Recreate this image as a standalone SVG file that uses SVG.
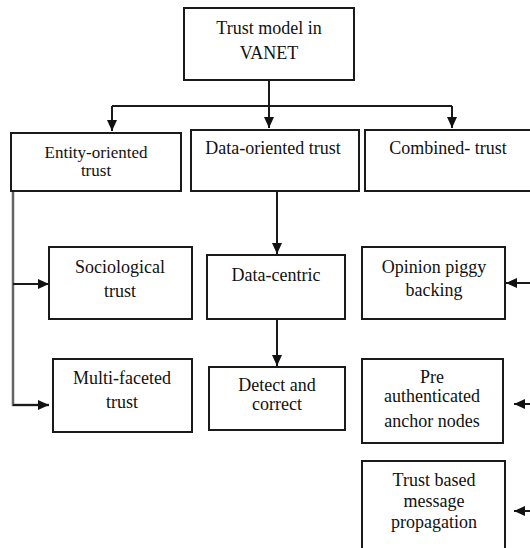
<svg xmlns="http://www.w3.org/2000/svg" width="530" height="548" viewBox="0 0 530 548">
<style>
.box{fill:#fff;stroke:#1a1a1a;stroke-width:2}
.t{font-size:18px;fill:#111;text-anchor:middle}
.c{fill:none;stroke:#1a1a1a;stroke-width:2}
.g{fill:none;stroke:#666;stroke-width:2.5}
</style>
<defs>
<marker id="ah" markerUnits="userSpaceOnUse" markerWidth="12" markerHeight="12" viewBox="0 0 12 12" refX="11" refY="6" orient="auto">
<path d="M0,1 L11,6 L0,11 Z" fill="#111"/>
</marker>
</defs>
<rect width="530" height="548" fill="#fff"/>
<g id="connectors">
<path class="c" d="M269,80 V128" marker-end="url(#ah)"/>
<path class="c" d="M112,106 H452"/>
<path class="c" d="M112,106 V131" marker-end="url(#ah)"/>
<path class="c" d="M452,106 V128" marker-end="url(#ah)"/>
<path class="g" d="M13,162 V405 H49"/>
<path class="c" d="M13,405 H49" marker-end="url(#ah)"/>
<path class="c" d="M13,284 H49" marker-end="url(#ah)"/>
<path class="c" d="M277,191 V254" marker-end="url(#ah)"/>
<path class="c" d="M277,319 V366" marker-end="url(#ah)"/>
<path class="c" d="M531,283 H506" marker-end="url(#ah)"/>
<path class="c" d="M531,404 H514" marker-end="url(#ah)"/>
<path class="c" d="M531,511 H514" marker-end="url(#ah)"/>
</g>
<g font-family="Liberation Serif, Times New Roman, serif">
<g id="root"><rect class="box" x="184" y="8" width="170" height="72"/><text class="t" x="269" y="34">Trust model in</text><text class="t" x="269" y="59">VANET</text></g>
<g id="entity"><rect class="box" x="11" y="133" width="170" height="58"/><text class="t" x="96" y="158" style="font-size:17px">Entity-oriented</text><text class="t" x="96" y="176" style="font-size:17px">trust</text></g>
<g id="data"><rect class="box" x="191" y="130" width="168" height="61"/><text class="t" x="273" y="154">Data-oriented trust</text></g>
<g id="combined"><rect class="box" x="365" y="130" width="170" height="61"/><text class="t" x="448" y="154">Combined- trust</text></g>
<g id="sociological"><rect class="box" x="49" y="247" width="143" height="72"/><text class="t" x="120" y="273">Sociological</text><text class="t" x="120" y="297">trust</text></g>
<g id="multifaceted"><rect class="box" x="53" y="359" width="139" height="73"/><text class="t" x="122" y="384">Multi-faceted</text><text class="t" x="122" y="408">trust</text></g>
<g id="datacentric"><rect class="box" x="207" y="255" width="138" height="64"/><text class="t" x="276" y="281">Data-centric</text></g>
<g id="detect"><rect class="box" x="209" y="367" width="136" height="63"/><text class="t" x="277" y="391">Detect and</text><text class="t" x="277" y="410">correct</text></g>
<g id="opinion"><rect class="box" x="362" y="247" width="143" height="72"/><text class="t" x="434" y="273">Opinion piggy</text><text class="t" x="434" y="296">backing</text></g>
<g id="preauth"><rect class="box" x="362" y="359" width="141" height="84"/><text class="t" x="432" y="383">Pre</text><text class="t" x="432" y="402">authenticated</text><text class="t" x="432" y="427">anchor nodes</text></g>
<g id="trustbased"><rect class="box" x="362" y="461" width="143" height="88"/><text class="t" x="434" y="486">Trust based</text><text class="t" x="434" y="507">message</text><text class="t" x="434" y="528">propagation</text></g>
</g>
</svg>
